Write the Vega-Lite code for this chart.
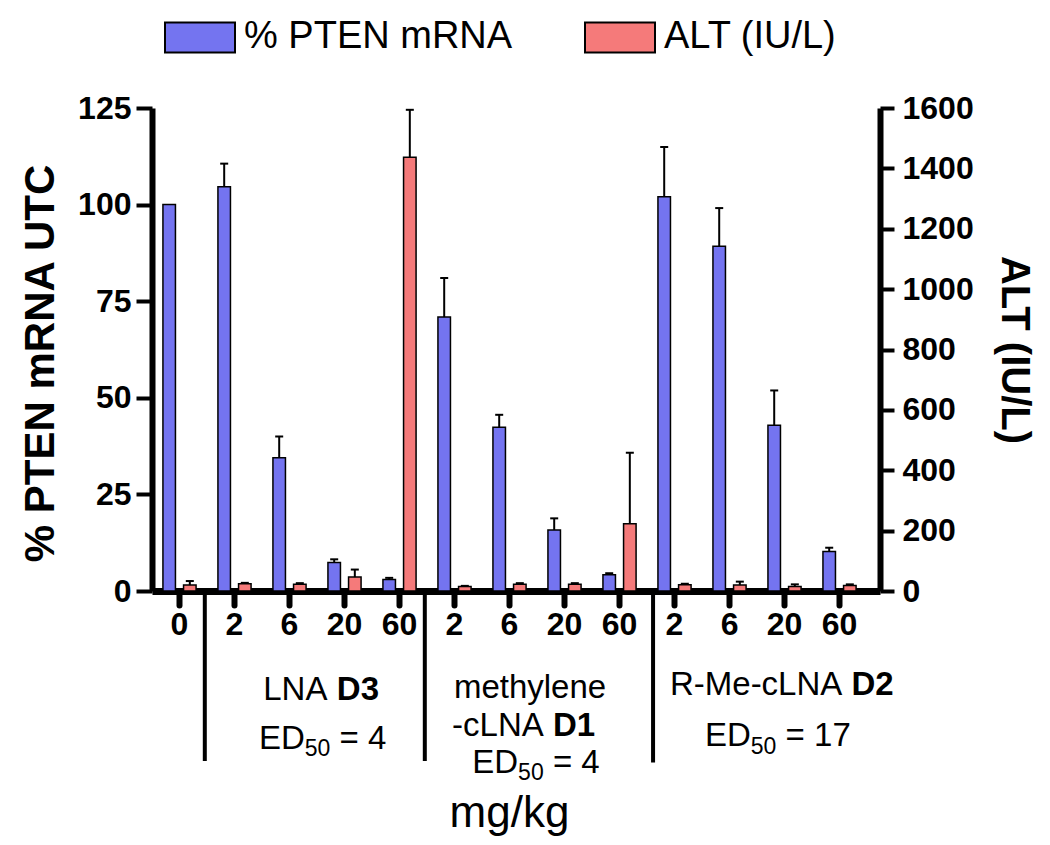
{
  "$schema": "https://vega.github.io/schema/vega-lite/v6.json",
  "width": 728,
  "height": 483,
  "autosize": {"type": "none"},
  "padding": {"left": 152, "top": 108, "right": 170, "bottom": 254},
  "background": "white",
  "config": {
    "view": {"stroke": null},
    "font": "Liberation Sans",
    "axis": {"labelFont": "Liberation Sans", "titleFont": "Liberation Sans", "labelColor": "black", "titleColor": "black", "domainColor": "black", "tickColor": "black", "grid": false},
    "text": {"font": "Liberation Sans", "color": "black", "baseline": "alphabetic", "fontSize": 33}
  },
  "datasets": {
    "bars": [
      {"g": "UTC|0", "series": "% PTEN mRNA", "value": 100, "upper": null},
      {"g": "LNA|2", "series": "% PTEN mRNA", "value": 104.6, "upper": 110.6},
      {"g": "LNA|6", "series": "% PTEN mRNA", "value": 34.5, "upper": 40},
      {"g": "LNA|20", "series": "% PTEN mRNA", "value": 7.4, "upper": 8.2},
      {"g": "LNA|60", "series": "% PTEN mRNA", "value": 3.0, "upper": 3.4},
      {"g": "methylene-cLNA|2", "series": "% PTEN mRNA", "value": 70.9, "upper": 81},
      {"g": "methylene-cLNA|6", "series": "% PTEN mRNA", "value": 42.4, "upper": 45.6},
      {"g": "methylene-cLNA|20", "series": "% PTEN mRNA", "value": 15.8, "upper": 18.8},
      {"g": "methylene-cLNA|60", "series": "% PTEN mRNA", "value": 4.2, "upper": 4.6},
      {"g": "R-Me-cLNA|2", "series": "% PTEN mRNA", "value": 102, "upper": 114.9},
      {"g": "R-Me-cLNA|6", "series": "% PTEN mRNA", "value": 89.2, "upper": 99.1},
      {"g": "R-Me-cLNA|20", "series": "% PTEN mRNA", "value": 42.9, "upper": 51.9},
      {"g": "R-Me-cLNA|60", "series": "% PTEN mRNA", "value": 10.2, "upper": 11.2},
      {"g": "UTC|0", "series": "ALT (IU/L)", "value": 20, "upper": 33},
      {"g": "LNA|2", "series": "ALT (IU/L)", "value": 24, "upper": 27},
      {"g": "LNA|6", "series": "ALT (IU/L)", "value": 22, "upper": 26},
      {"g": "LNA|20", "series": "ALT (IU/L)", "value": 46, "upper": 71},
      {"g": "LNA|60", "series": "ALT (IU/L)", "value": 1437, "upper": 1594},
      {"g": "methylene-cLNA|2", "series": "ALT (IU/L)", "value": 15, "upper": 17},
      {"g": "methylene-cLNA|6", "series": "ALT (IU/L)", "value": 22, "upper": 26},
      {"g": "methylene-cLNA|20", "series": "ALT (IU/L)", "value": 22, "upper": 26},
      {"g": "methylene-cLNA|60", "series": "ALT (IU/L)", "value": 223, "upper": 458},
      {"g": "R-Me-cLNA|2", "series": "ALT (IU/L)", "value": 21, "upper": 24},
      {"g": "R-Me-cLNA|6", "series": "ALT (IU/L)", "value": 20, "upper": 31},
      {"g": "R-Me-cLNA|20", "series": "ALT (IU/L)", "value": 15, "upper": 22},
      {"g": "R-Me-cLNA|60", "series": "ALT (IU/L)", "value": 18, "upper": 22}
    ]
  },
  "layer": [
    {
      "layer": [
        {
          "data": {"name": "bars"},
          "transform": [{"filter": "datum.series === '% PTEN mRNA'"}],
          "mark": {"type": "bar", "stroke": "black", "strokeWidth": 1.5},
          "encoding": {
            "x": {
              "field": "g", "type": "nominal",
              "scale": {"type": "band", "domain": ["UTC|0", "LNA|2", "LNA|6", "LNA|20", "LNA|60", "methylene-cLNA|2", "methylene-cLNA|6", "methylene-cLNA|20", "methylene-cLNA|60", "R-Me-cLNA|2", "R-Me-cLNA|6", "R-Me-cLNA|20", "R-Me-cLNA|60"], "paddingInner": 0, "paddingOuter": 0.118, "align": 0},
              "axis": {"title": null, "labelExpr": "split(datum.label, '|')[1]", "labelAngle": 0, "labelFontSize": 32, "labelFontWeight": "bold", "labelPadding": 4, "tickSize": 14, "tickWidth": 6, "tickCap": "round", "domainWidth": 7}
            },
            "xOffset": {"field": "series", "type": "nominal", "scale": {"domain": ["% PTEN mRNA", "ALT (IU/L)"], "paddingInner": 0.393, "paddingOuter": 0.53}},
            "y": {
              "field": "value", "type": "quantitative",
              "scale": {"domain": [0, 125], "nice": false},
              "axis": {"title": "% PTEN mRNA UTC", "titleFontSize": 42, "titleFontWeight": "bold", "titlePadding": 15, "titleY": 255, "values": [0, 25, 50, 75, 100, 125], "labelFontSize": 32, "labelFontWeight": "bold", "labelPadding": 5, "tickSize": 16, "tickWidth": 4, "domainWidth": 6}
            },
            "color": {
              "field": "series", "type": "nominal",
              "scale": {"domain": ["% PTEN mRNA", "ALT (IU/L)"], "range": ["#7474f0", "#f57a7a"]},
              "legend": {"title": null, "orient": "none", "legendX": 12, "legendY": -107, "direction": "horizontal", "labelFontSize": 38, "labelFont": "Liberation Sans", "labelColor": "black", "labelLimit": 400, "labelOffset": 8, "columnPadding": 68, "symbolType": "M-1,-0.43H1V0.43H-1Z", "symbolSize": 4900, "symbolStrokeColor": "black", "symbolStrokeWidth": 2, "symbolOpacity": 1, "padding": 0}
            }
          }
        },
        {
          "data": {"name": "bars"},
          "transform": [{"filter": "datum.series === '% PTEN mRNA' && isValid(datum.upper)"}],
          "mark": {"type": "rule", "color": "black", "strokeWidth": 2},
          "encoding": {
            "x": {"field": "g", "type": "nominal"},
            "xOffset": {"field": "series", "type": "nominal"},
            "y": {"field": "value", "type": "quantitative"},
            "y2": {"field": "upper"}
          }
        },
        {
          "data": {"name": "bars"},
          "transform": [{"filter": "datum.series === '% PTEN mRNA' && isValid(datum.upper)"}],
          "mark": {"type": "tick", "orient": "horizontal", "color": "black", "size": 8, "thickness": 2, "opacity": 1},
          "encoding": {
            "x": {"field": "g", "type": "nominal"},
            "xOffset": {"field": "series", "type": "nominal"},
            "y": {"field": "upper", "type": "quantitative"}
          }
        },
        {
          "data": {"values": [{"s": "UTC|0"}, {"s": "LNA|60"}]},
          "mark": {"type": "rule", "color": "black", "strokeWidth": 4},
          "encoding": {"x": {"field": "s", "type": "nominal", "bandPosition": 0.96}, "y": {"datum": 0}, "y2": {"datum": -44}}
        },
        {
          "data": {"values": [{"s": "methylene-cLNA|60"}]},
          "mark": {"type": "rule", "color": "black", "strokeWidth": 4},
          "encoding": {"x": {"field": "s", "type": "nominal", "bandPosition": 1.11}, "y": {"datum": 0}, "y2": {"datum": -44.4}}
        },
        {
          "data": {"values": [{"t": "LNA"}]},
          "mark": {"type": "text", "align": "right"},
          "encoding": {"x": {"datum": "LNA|20", "bandPosition": 0.19}, "y": {"datum": -28.3}, "text": {"field": "t"}}
        },
        {
          "data": {"values": [{"t": "D3"}]},
          "mark": {"type": "text", "align": "left", "fontWeight": "bold"},
          "encoding": {"x": {"datum": "LNA|20", "bandPosition": 0.36}, "y": {"datum": -28.3}, "text": {"field": "t"}}
        },
        {
          "data": {"values": [{"t": "ED"}]},
          "mark": {"type": "text", "align": "left"},
          "encoding": {"x": {"datum": "LNA|2", "bandPosition": 0.945}, "y": {"datum": -40.8}, "text": {"field": "t"}}
        },
        {
          "data": {"values": [{"t": "50"}]},
          "mark": {"type": "text", "align": "left", "fontSize": 23},
          "encoding": {"x": {"datum": "LNA|6", "bandPosition": 0.778}, "y": {"datum": -42.8}, "text": {"field": "t"}}
        },
        {
          "data": {"values": [{"t": "= 4"}]},
          "mark": {"type": "text", "align": "left"},
          "encoding": {"x": {"datum": "LNA|20", "bandPosition": 0.411}, "y": {"datum": -40.8}, "text": {"field": "t"}}
        },
        {
          "data": {"values": [{"t": "methylene"}]},
          "mark": {"type": "text", "align": "center"},
          "encoding": {"x": {"datum": "methylene-cLNA|6", "bandPosition": 0.873}, "y": {"datum": -27.7}, "text": {"field": "t"}}
        },
        {
          "data": {"values": [{"t": "-cLNA"}]},
          "mark": {"type": "text", "align": "right"},
          "encoding": {"x": {"datum": "methylene-cLNA|20", "bandPosition": 0.122}, "y": {"datum": -37.6}, "text": {"field": "t"}}
        },
        {
          "data": {"values": [{"t": "D1"}]},
          "mark": {"type": "text", "align": "left", "fontWeight": "bold"},
          "encoding": {"x": {"datum": "methylene-cLNA|20", "bandPosition": 0.289}, "y": {"datum": -37.6}, "text": {"field": "t"}}
        },
        {
          "data": {"values": [{"t": "ED"}]},
          "mark": {"type": "text", "align": "left"},
          "encoding": {"x": {"datum": "methylene-cLNA|2", "bandPosition": 0.824}, "y": {"datum": -47.2}, "text": {"field": "t"}}
        },
        {
          "data": {"values": [{"t": "50"}]},
          "mark": {"type": "text", "align": "left", "fontSize": 23},
          "encoding": {"x": {"datum": "methylene-cLNA|6", "bandPosition": 0.656}, "y": {"datum": -49.0}, "text": {"field": "t"}}
        },
        {
          "data": {"values": [{"t": "= 4"}]},
          "mark": {"type": "text", "align": "left"},
          "encoding": {"x": {"datum": "methylene-cLNA|20", "bandPosition": 0.289}, "y": {"datum": -47.2}, "text": {"field": "t"}}
        },
        {
          "data": {"values": [{"t": "R-Me-cLNA"}]},
          "mark": {"type": "text", "align": "right"},
          "encoding": {"x": {"datum": "R-Me-cLNA|60", "bandPosition": 0.551}, "y": {"datum": -27.0}, "text": {"field": "t"}}
        },
        {
          "data": {"values": [{"t": "D2"}]},
          "mark": {"type": "text", "align": "left", "fontWeight": "bold"},
          "encoding": {"x": {"datum": "R-Me-cLNA|60", "bandPosition": 0.718}, "y": {"datum": -27.0}, "text": {"field": "t"}}
        },
        {
          "data": {"values": [{"t": "ED"}]},
          "mark": {"type": "text", "align": "left"},
          "encoding": {"x": {"datum": "R-Me-cLNA|6", "bandPosition": 0.055}, "y": {"datum": -40.0}, "text": {"field": "t"}}
        },
        {
          "data": {"values": [{"t": "50"}]},
          "mark": {"type": "text", "align": "left", "fontSize": 23},
          "encoding": {"x": {"datum": "R-Me-cLNA|6", "bandPosition": 0.887}, "y": {"datum": -42.1}, "text": {"field": "t"}}
        },
        {
          "data": {"values": [{"t": "= 17"}]},
          "mark": {"type": "text", "align": "left"},
          "encoding": {"x": {"datum": "R-Me-cLNA|20", "bandPosition": 0.52}, "y": {"datum": -40.0}, "text": {"field": "t"}}
        },
        {
          "data": {"values": [{"t": "mg/kg"}]},
          "mark": {"type": "text", "align": "center", "fontSize": 44},
          "encoding": {"x": {"datum": "methylene-cLNA|6", "bandPosition": 0.5}, "y": {"datum": -61.0}, "text": {"field": "t"}}
        }
      ]
    },
    {
      "data": {"name": "bars"},
      "transform": [{"filter": "datum.series === 'ALT (IU/L)'"}],
      "layer": [
        {
          "mark": {"type": "bar", "stroke": "black", "strokeWidth": 1.5},
          "encoding": {
            "x": {"field": "g", "type": "nominal"},
            "xOffset": {"field": "series", "type": "nominal"},
            "y": {
              "field": "value", "type": "quantitative",
              "scale": {"domain": [0, 1600], "nice": false},
              "axis": {"orient": "right", "title": "ALT (IU/L)", "titleFontSize": 40, "titleFontWeight": "bold", "titlePadding": 20, "format": "d", "values": [0, 200, 400, 600, 800, 1000, 1200, 1400, 1600], "labelFontSize": 32, "labelFontWeight": "bold", "labelPadding": 8, "tickSize": 14, "tickWidth": 4, "domainWidth": 6}
            },
            "color": {"field": "series", "type": "nominal"}
          }
        },
        {
          "transform": [{"filter": "isValid(datum.upper)"}],
          "mark": {"type": "rule", "color": "black", "strokeWidth": 2},
          "encoding": {
            "x": {"field": "g", "type": "nominal"},
            "xOffset": {"field": "series", "type": "nominal"},
            "y": {"field": "value", "type": "quantitative"},
            "y2": {"field": "upper"}
          }
        },
        {
          "transform": [{"filter": "isValid(datum.upper)"}],
          "mark": {"type": "tick", "orient": "horizontal", "color": "black", "size": 8, "thickness": 2, "opacity": 1},
          "encoding": {
            "x": {"field": "g", "type": "nominal"},
            "xOffset": {"field": "series", "type": "nominal"},
            "y": {"field": "upper", "type": "quantitative"}
          }
        }
      ]
    }
  ],
  "resolve": {"scale": {"y": "independent"}}
}
